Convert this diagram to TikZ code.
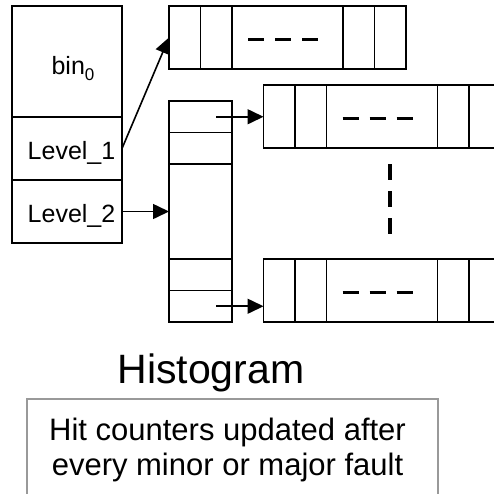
\documentclass[tikz,border=0pt]{standalone}
\usepackage{fontspec}
\setmainfont{Liberation Sans}
\usetikzlibrary{arrows.meta}

\tikzset{
  cell/.style={draw, line width=1.6pt, inner sep=0pt, outer sep=0pt},
  slot/.style={cell, minimum width=31.5pt, minimum height=63pt},
  gapcell/.style={cell, minimum width=111pt, minimum height=63pt},
  pslot/.style={cell, minimum width=63pt, minimum height=31.5pt},
  ptr/.style={-{Triangle[length=16pt,width=15pt]}, line width=1.6pt},
  gapdash/.style={line width=3.5pt, dash pattern=on 16pt off 11pt},
  lbl/.style={anchor=base, font=\fontsize{25}{30}\selectfont},
}

\begin{document}
\begin{tikzpicture}[x=1pt,y=-1pt]
\useasboundingbox (0,0) rectangle (494,493);
\clip (0,0) rectangle (494,493);

\node[cell, minimum width=110pt, minimum height=111pt, anchor=north west] (bin) at (12,6) {};
\node[cell, minimum width=110pt, minimum height=63pt, anchor=north] (lev1) at (bin.south) {};
\node[cell, minimum width=110pt, minimum height=63pt, anchor=north] (lev2) at (lev1.south) {};
\node[lbl] (bintxt) at (73,74) {bin\raisebox{-6pt}{\fontsize{17}{20}\selectfont 0}};
\node[lbl] (lev1txt) at (71.5,159) {Level\_1};
\node[lbl] (lev2txt) at (71.5,222) {Level\_2};

\node[slot, anchor=north west] (t1) at (169,6) {};
\node[slot, anchor=west] (t2) at (t1.east) {};
\node[gapcell, anchor=west] (t3) at (t2.east) {};
\node[slot, anchor=west] (t4) at (t3.east) {};
\node[slot, anchor=west] (t5) at (t4.east) {};

\node[pslot, anchor=north west] (p1) at (169,101) {};
\node[pslot, anchor=north] (p2) at (p1.south) {};
\node[cell, minimum width=63pt, minimum height=95pt, anchor=north] (pg) at (p2.south) {};
\node[pslot, anchor=north] (p4) at (pg.south) {};
\node[pslot, anchor=north] (p5) at (p4.south) {};

\node[slot, anchor=north west] (m1) at (263.5,85) {};
\node[slot, anchor=west] (m2) at (m1.east) {};
\node[gapcell, anchor=west] (m3) at (m2.east) {};
\node[slot, anchor=west] (m4) at (m3.east) {};
\node[slot, anchor=west] (m5) at (m4.east) {};

\node[slot, anchor=north west] (b1) at (263.5,259) {};
\node[slot, anchor=west] (b2) at (b1.east) {};
\node[gapcell, anchor=west] (b3) at (b2.east) {};
\node[slot, anchor=west] (b4) at (b3.east) {};
\node[slot, anchor=west] (b5) at (b4.east) {};

\draw[gapdash] ([shift={(-39.5pt,-2pt)}]t3.center) -- ++(70,0);
\draw[gapdash] ([shift={(-39.5pt,-2pt)}]m3.center) -- ++(70,0);
\draw[gapdash] ([shift={(-39.5pt,-2pt)}]b3.center) -- ++(70,0);
\draw[gapdash] (390,164) -- (390,234);

\draw[ptr] (lev1.east) -- (t1.west);
\draw[ptr] (lev2.east) -- (pg.west);
\draw[ptr] ([xshift=15.5pt]p1.center) -- (p1.center -| m1.west);
\draw[ptr] ([xshift=15.5pt]p5.center) -- (p5.center -| b1.west);

\node[anchor=base, font=\fontsize{41}{49}\selectfont] (title) at (211,383) {Histogram};

\draw[line width=1.5pt, color=black!40] (27,510) -- (27,399) -- (438,399) -- (438,510);
\node[align=center, inner sep=0pt, font=\fontsize{31}{35}\selectfont] (note) at (227.5,449.5)
  {Hit counters updated after\\every minor or major fault};

\end{tikzpicture}
\end{document}
